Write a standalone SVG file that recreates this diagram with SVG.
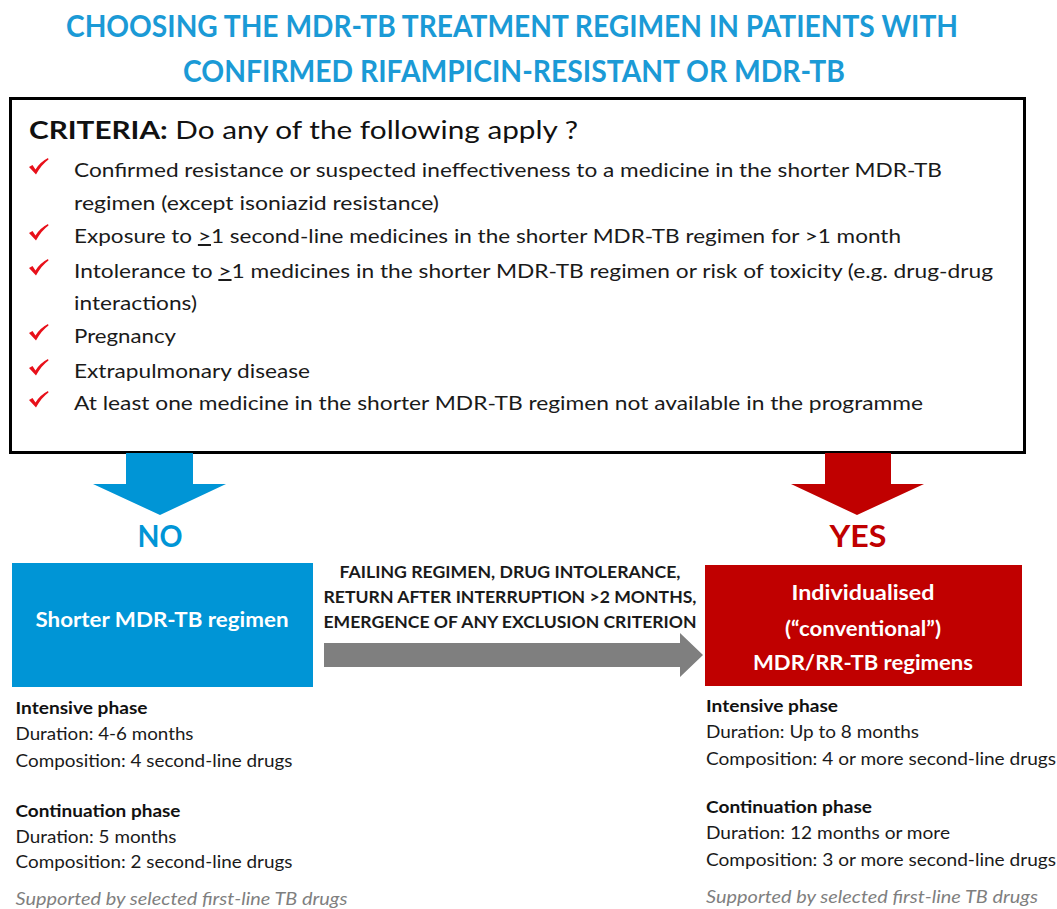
<svg xmlns="http://www.w3.org/2000/svg" xmlns:xlink="http://www.w3.org/1999/xlink" width="1057" height="909" viewBox="0 0 1057 909">
<style>
text{font-family:Lato,"Open Sans","Liberation Sans",sans-serif;}
.title{font-size:30px;font-weight:bold;fill:#1b9ad6;}
.item{font-size:20px;fill:#1a1a1a;}
.crit{font-size:25px;fill:#111;}
.mid{font-size:17px;font-weight:bold;fill:#1a1a1a;}
.boxt{font-size:20px;font-weight:bold;fill:#ffffff;}
.body{font-size:17px;fill:#1a1a1a;}
.bh{font-size:17px;font-weight:bold;fill:#111;}
.sup{font-size:17px;font-style:italic;fill:#7f7f7f;}
.yn{font-size:30px;font-weight:bold;}
</style>
<defs>
<path id="chk" d="M0,9 L3.5,7 L6.5,11.5 Q11,4 19,0 L19.5,1.5 Q12.5,6.5 7,16.5 Z" fill="#e8101a"/>
</defs>
<rect width="1057" height="909" fill="#ffffff"/>
<g id="title">
<text class="title" x="512" y="37" text-anchor="middle" textLength="892" lengthAdjust="spacingAndGlyphs">CHOOSING THE MDR-TB TREATMENT REGIMEN IN PATIENTS WITH</text>
<text class="title" x="514" y="82" text-anchor="middle" textLength="662" lengthAdjust="spacingAndGlyphs">CONFIRMED RIFAMPICIN-RESISTANT OR MDR-TB</text>
</g>
<g id="criteria">
<rect x="10.5" y="98.5" width="1014" height="354" fill="#ffffff" stroke="#000" stroke-width="3"/>
<text class="crit" x="29" y="139" textLength="549" lengthAdjust="spacingAndGlyphs"><tspan font-weight="bold">CRITERIA:</tspan> Do any of the following apply ?</text>
<use xlink:href="#chk" x="29" y="158"/>
<use xlink:href="#chk" x="29" y="224"/>
<use xlink:href="#chk" x="29" y="259"/>
<use xlink:href="#chk" x="29" y="324"/>
<use xlink:href="#chk" x="29" y="359"/>
<use xlink:href="#chk" x="29" y="391"/>
<text class="item" x="74" y="177" textLength="868" lengthAdjust="spacingAndGlyphs">Confirmed resistance or suspected ineffectiveness to a medicine in the shorter MDR-TB</text>
<text class="item" x="74" y="210" textLength="365" lengthAdjust="spacingAndGlyphs">regimen (except isoniazid resistance)</text>
<text class="item" x="74" y="243" textLength="827" lengthAdjust="spacingAndGlyphs">Exposure to <tspan text-decoration="underline">&gt;</tspan>1 second-line medicines in the shorter MDR-TB regimen for &gt;1 month</text>
<text class="item" x="74" y="278" textLength="919" lengthAdjust="spacingAndGlyphs">Intolerance to <tspan text-decoration="underline">&gt;</tspan>1 medicines in the shorter MDR-TB regimen or risk of toxicity (e.g. drug-drug</text>
<text class="item" x="74" y="310" textLength="123" lengthAdjust="spacingAndGlyphs">interactions)</text>
<text class="item" x="74" y="343" textLength="102" lengthAdjust="spacingAndGlyphs">Pregnancy</text>
<text class="item" x="74" y="378" textLength="236" lengthAdjust="spacingAndGlyphs">Extrapulmonary disease</text>
<text class="item" x="74" y="410" textLength="849" lengthAdjust="spacingAndGlyphs">At least one medicine in the shorter MDR-TB regimen not available in the programme</text>
</g>
<g id="connectors">
<path id="arrow-no" d="M126,453 H193 V484 H226 L160,515 L93,484 H126 Z" fill="#0095d6"/>
<path id="arrow-yes" d="M825,453 H891 V484 H924 L857,515 L791,484 H825 Z" fill="#c00000"/>
<path id="arrow-switch" d="M324,643 H680 V633 L703,655 L680,677 V667 H324 Z" fill="#7f7f7f"/>
<text class="mid" x="510" y="578" text-anchor="middle" textLength="341" lengthAdjust="spacingAndGlyphs">FAILING REGIMEN, DRUG INTOLERANCE,</text>
<text class="mid" x="510" y="603" text-anchor="middle" textLength="373" lengthAdjust="spacingAndGlyphs">RETURN AFTER INTERRUPTION &gt;2 MONTHS,</text>
<text class="mid" x="510" y="628" text-anchor="middle" textLength="373" lengthAdjust="spacingAndGlyphs">EMERGENCE OF ANY EXCLUSION CRITERION</text>
</g>
<g id="no">
<text class="yn" x="160" y="547" text-anchor="middle" fill="#0095d6" textLength="45" lengthAdjust="spacingAndGlyphs">NO</text>
<rect x="12" y="563" width="301" height="124" fill="#0095d6"/>
<text class="boxt" x="162" y="627" text-anchor="middle" textLength="253" lengthAdjust="spacingAndGlyphs">Shorter MDR-TB regimen</text>
</g>
<g id="yes">
<text class="yn" x="858" y="547" text-anchor="middle" fill="#c00000" textLength="57" lengthAdjust="spacingAndGlyphs">YES</text>
<rect x="705" y="565" width="317" height="121" fill="#c00000"/>
<text class="boxt" x="863" y="600" text-anchor="middle" textLength="143" lengthAdjust="spacingAndGlyphs">Individualised</text>
<text class="boxt" x="863" y="636" text-anchor="middle" textLength="156" lengthAdjust="spacingAndGlyphs">(“conventional”)</text>
<text class="boxt" x="863" y="670" text-anchor="middle" textLength="220" lengthAdjust="spacingAndGlyphs">MDR/RR-TB regimens</text>
</g>
<g id="shorter-details">
<text class="bh" x="15.5" y="714" textLength="132" lengthAdjust="spacingAndGlyphs">Intensive phase</text>
<text class="body" x="15.5" y="740" textLength="178" lengthAdjust="spacingAndGlyphs">Duration: 4-6 months</text>
<text class="body" x="15.5" y="767" textLength="277" lengthAdjust="spacingAndGlyphs">Composition: 4 second-line drugs</text>
<text class="bh" x="15.5" y="817" textLength="165" lengthAdjust="spacingAndGlyphs">Continuation phase</text>
<text class="body" x="15.5" y="843" textLength="161" lengthAdjust="spacingAndGlyphs">Duration: 5 months</text>
<text class="body" x="15.5" y="868" textLength="277" lengthAdjust="spacingAndGlyphs">Composition: 2 second-line drugs</text>
<text class="sup" x="15.5" y="905" textLength="332" lengthAdjust="spacingAndGlyphs">Supported by selected first-line TB drugs</text>
</g>
<g id="individualised-details">
<text class="bh" x="706" y="712" textLength="132" lengthAdjust="spacingAndGlyphs">Intensive phase</text>
<text class="body" x="706" y="738" textLength="213" lengthAdjust="spacingAndGlyphs">Duration: Up to 8 months</text>
<text class="body" x="706" y="765" textLength="350" lengthAdjust="spacingAndGlyphs">Composition: 4 or more second-line drugs</text>
<text class="bh" x="706" y="813" textLength="166" lengthAdjust="spacingAndGlyphs">Continuation phase</text>
<text class="body" x="706" y="839" textLength="244" lengthAdjust="spacingAndGlyphs">Duration: 12 months or more</text>
<text class="body" x="706" y="866" textLength="350" lengthAdjust="spacingAndGlyphs">Composition: 3 or more second-line drugs</text>
<text class="sup" x="706" y="903" textLength="332" lengthAdjust="spacingAndGlyphs">Supported by selected first-line TB drugs</text>
</g>
</svg>
